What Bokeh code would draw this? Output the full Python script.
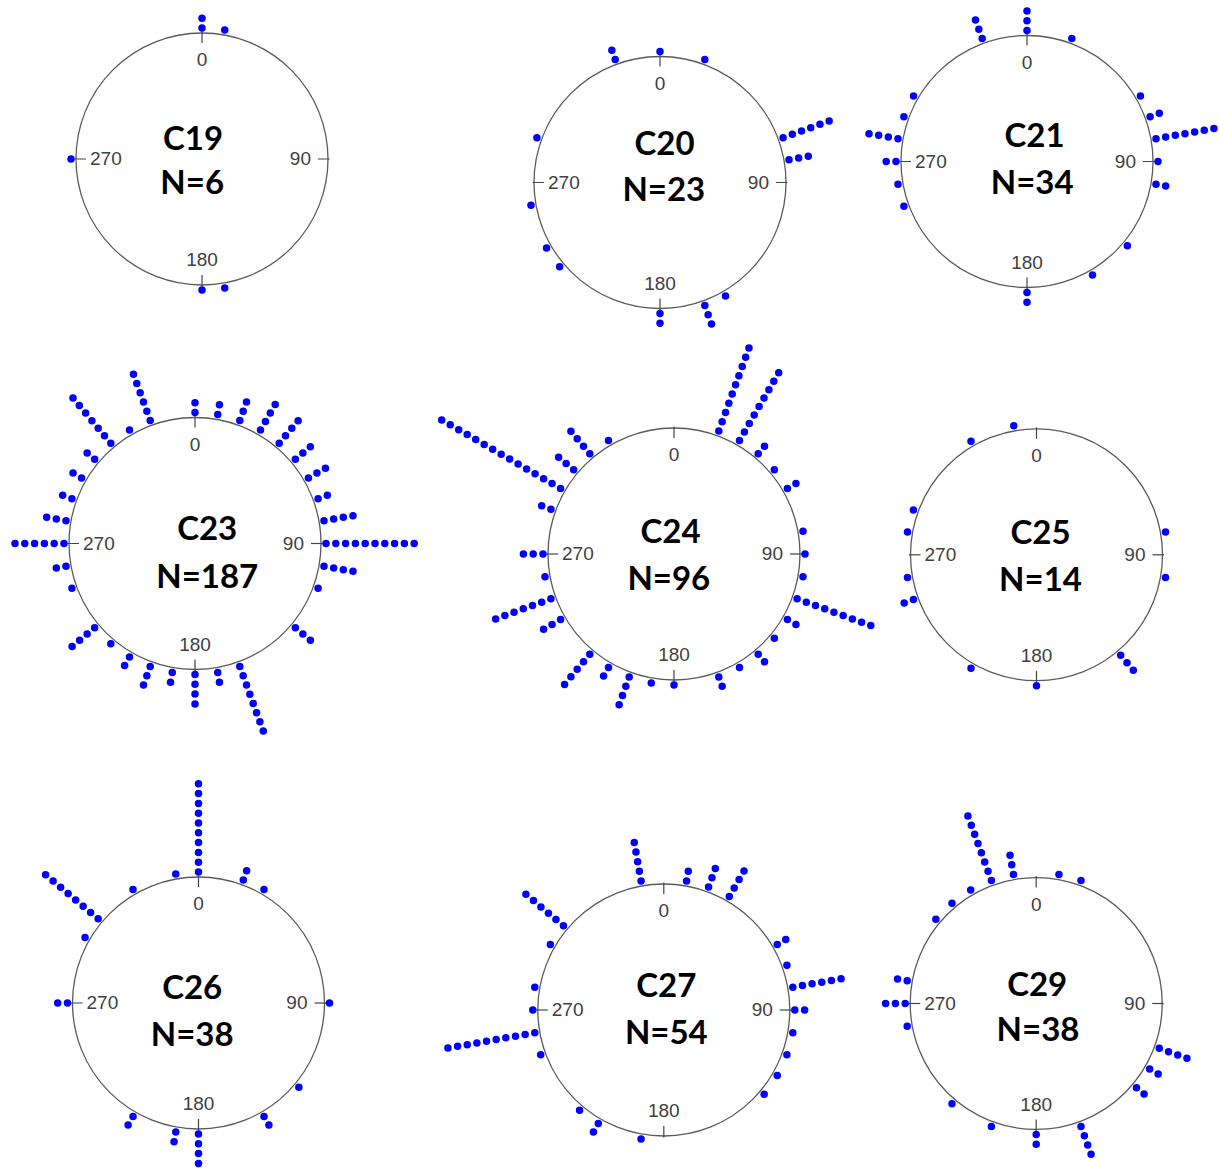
import numpy as np
from bokeh.plotting import figure
from bokeh.models import Range1d, ColumnDataSource
from bokeh.embed import file_html
from bokeh.resources import INLINE
from bokeh.core.properties import value

# ---------------- data: compass bearing of each 10-degree bin and number of dots ----------------
C19_angles = [0, 10, 170, 180, 270]
C19_counts = [2, 1, 1, 1, 1]

C20_angles = [0, 20, 70, 80, 150, 160, 180, 230, 240, 260, 290, 340]
C20_counts = [1, 1, 6, 3, 1, 3, 2, 1, 1, 1, 1, 2]

C21_angles = [0, 20, 60, 70, 80, 90, 100, 130, 150, 180, 250, 260, 270, 280, 290, 300, 340]
C21_counts = [3, 1, 1, 2, 7, 1, 2, 1, 1, 2, 1, 1, 2, 4, 1, 1, 3]

C23_angles = [0, 10, 20, 30, 40, 50, 60, 70, 80, 90, 100, 110, 130, 160, 170, 180, 190, 200,
              210, 220, 230, 250, 260, 270, 280, 290, 300, 310, 320, 330, 340]
C23_counts = [2, 2, 3, 4, 4, 3, 3, 2, 4, 10, 4, 1, 3, 8, 2, 4, 2, 3,
              2, 1, 4, 1, 2, 6, 3, 2, 2, 2, 7, 1, 6]

C24_angles = [20, 30, 40, 50, 60, 80, 90, 100, 110, 120, 130, 140, 150, 160, 180, 190, 200,
              210, 220, 240, 250, 260, 270, 290, 300, 310, 320, 330]
C24_counts = [10, 9, 2, 1, 2, 1, 1, 1, 9, 2, 1, 2, 1, 2, 1, 1, 4,
              2, 5, 3, 7, 1, 3, 2, 15, 3, 4, 1]

C25_angles = [80, 100, 140, 180, 210, 250, 260, 280, 290, 330, 350]
C25_counts = [1, 1, 3, 1, 1, 2, 1, 1, 1, 1, 1]

C26_angles = [0, 20, 30, 90, 130, 150, 180, 190, 210, 270, 300, 310, 330, 350]
C26_counts = [10, 2, 1, 1, 1, 2, 4, 2, 2, 2, 1, 8, 1, 1]

C27_angles = [10, 20, 30, 60, 70, 80, 90, 100, 110, 120, 130, 190, 210, 220, 250, 260,
              270, 280, 300, 310, 350]
C27_counts = [2, 3, 4, 2, 1, 6, 2, 1, 1, 1, 1, 1, 2, 1, 1, 10,
              1, 1, 1, 6, 5]

C29_angles = [10, 20, 110, 120, 130, 160, 180, 200, 220, 260, 270, 280, 310, 320, 330, 340, 350]
C29_counts = [1, 1, 4, 2, 2, 4, 2, 1, 1, 1, 3, 2, 1, 1, 1, 8, 3]

panel_names = ["C19", "C20", "C21", "C23", "C24", "C25", "C26", "C27", "C29"]
panel_n = [6, 23, 34, 187, 96, 14, 38, 54, 38]
panel_angles = [C19_angles, C20_angles, C21_angles, C23_angles, C24_angles,
                C25_angles, C26_angles, C27_angles, C29_angles]
panel_counts = [C19_counts, C20_counts, C21_counts, C23_counts, C24_counts,
                C25_counts, C26_counts, C27_counts, C29_counts]
tick_angles = [0, 90, 180, 270]
tick_labels = ["0", "90", "180", "270"]

# ---------------- layout (page pixel coordinates) ----------------
W, H = 1219, 1168
CENTERS = [(201.5, 158.5), (659.5, 182.0), (1026.5, 161.0),
           (194.5, 543.0), (673.5, 553.5), (1036.0, 554.3),
           (198.0, 1002.5), (663.3, 1009.5), (1035.7, 1003.0)]
TITLE_POS = [(192.5, 136.7), (664.0, 141.7), (1034.0, 134.0),
             (206.7, 526.7), (670.0, 530.0), (1040.0, 530.8),
             (191.7, 985.8), (665.8, 984.2), (1036.7, 983.3)]
N_POS = [(191.7, 180.8), (663.3, 188.3), (1031.7, 180.8),
         (206.7, 575.0), (668.3, 576.7), (1040.0, 577.5),
         (191.7, 1032.5), (665.8, 1030.8), (1037.5, 1028.3)]
R = 126.0
DOT_OFFSET = 5.0
DOT_STEP = 9.8
TITLE_DY = -0.5   # baseline shift so that glyph centres land on the positions above
TICK_DY = -7.0

p = figure(width=W, height=H, x_range=Range1d(0, W), y_range=Range1d(H, 0),
           output_backend="svg", toolbar_location=None, min_border=0,
           x_axis_location=None, y_axis_location=None)
p.grid.visible = False
p.outline_line_color = None
p.background_fill_color = "white"

cx_all = [c[0] for c in CENTERS]
cy_all = [c[1] for c in CENTERS]

# circles
p.circle(x=cx_all, y=cy_all, radius=R, fill_color=None, line_color="#5a5a5a", line_width=1.3)

# ticks and tick labels
sx0, sy0, sx1, sy1 = [], [], [], []
lx, ly, lt, la = [], [], [], []
for (cx, cy) in CENTERS:
    for a, t in zip(tick_angles, tick_labels):
        th = np.deg2rad(a)
        s, c = np.sin(th), np.cos(th)
        sx0.append(cx + (R - 10) * s); sy0.append(cy - (R - 10) * c)
        sx1.append(cx + (R + 1.5) * s); sy1.append(cy - (R + 1.5) * c)
    lx += [cx, cx + R - 17, cx, cx - R + 14]
    ly += [cy - R + 33.5 + TICK_DY, cy + 6.5 + TICK_DY, cy + R - 18.5 + TICK_DY, cy + 6.5 + TICK_DY]
    lt += tick_labels
    la += ["center", "right", "center", "left"]
p.segment(x0=sx0, y0=sy0, x1=sx1, y1=sy1, line_color="#444444", line_width=1.2)
p.text(source=ColumnDataSource(dict(x=lx, y=ly, text=lt, align=la)),
       x="x", y="y", text="text", text_align="align", text_baseline="alphabetic",
       text_font=value("Liberation Sans"), text_font_size="19px", text_color="#404040")

# dots
dx, dy = [], []
for (cx, cy), angs, cnts in zip(CENTERS, panel_angles, panel_counts):
    for a, n in zip(angs, cnts):
        th = np.deg2rad(a)
        for k in range(n):
            r = R + DOT_OFFSET + k * DOT_STEP
            dx.append(cx + r * np.sin(th))
            dy.append(cy - r * np.cos(th))
p.scatter(x=dx, y=dy, size=7.5, fill_color="#0000ff", line_color=None)

# titles
p.text(x=[t[0] for t in TITLE_POS], y=[t[1] + TITLE_DY for t in TITLE_POS], text=panel_names,
       text_align="center", text_baseline="alphabetic", text_font=value("Lato"),
       text_font_style="bold", text_font_size="33px", text_color="black")
p.text(x=[t[0] for t in N_POS], y=[t[1] + TITLE_DY for t in N_POS],
       text=["N=%d" % n for n in panel_n],
       text_align="center", text_baseline="alphabetic", text_font=value("Lato"),
       text_font_style="bold", text_font_size="33px", text_color="black")

open("out.html", "w").write(file_html(p, INLINE))
